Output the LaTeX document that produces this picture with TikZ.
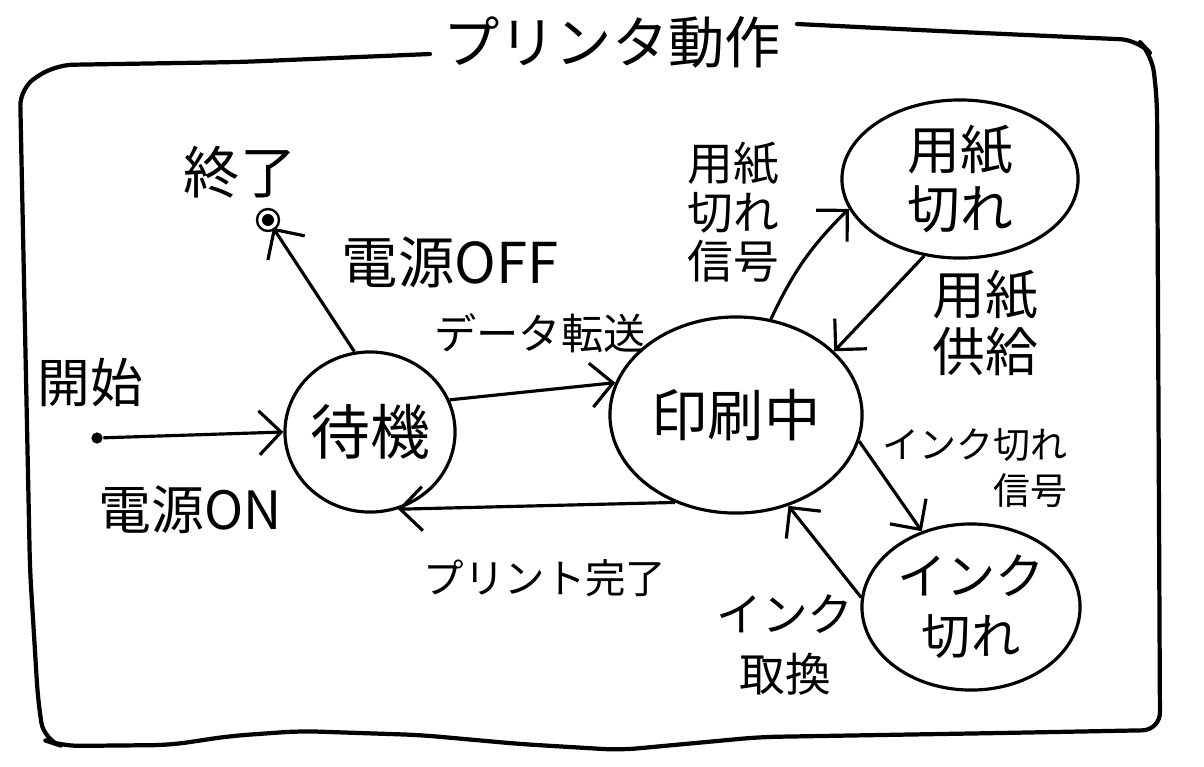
\documentclass[tikz,border=0pt]{standalone}
\usepackage{fontspec}
\setmainfont{Noto Sans CJK JP}
\usetikzlibrary{shapes.geometric,arrows.meta}

\tikzset{
  state/.style={draw, ellipse, line width=0.9pt, inner sep=0pt, align=center},
  trans/.style={->, line width=0.9pt},
  lbl/.style={align=center, inner sep=0pt},
  frame/.style={line width=1.2pt, line cap=round, line join=round},
}
\newcommand{\fsz}[1]{\fontsize{#1}{#1}\selectfont}

\begin{document}
\begin{tikzpicture}[x=0.01cm, y=-0.01cm,
    >={Straight Barb[length=2.2mm,width=4.4mm,line width=0.9pt]}]
    \useasboundingbox (0,0) rectangle (1204,766);
    \fill[white] (0,0) rectangle (1204,766);
    %\draw[help lines, step=100] (0,0) grid (1204,766);
    % cadre et titre
    \draw[frame, rounded corners=5pt] (430,54) -- (240,62) -- (55,65) -- (20,88) -- (30,570) -- (38,700) -- (44,740) -- (62,746) -- (170,745) -- (230,736) -- (300,731) -- (420,735) -- (520,744) -- (620,750) -- (760,737) -- (1000,733) -- (1160,730) -- (1157,100) -- (1152,55) -- (1138,40) -- (960,32) -- (797,24);
    \node[lbl, font=\fsz{16pt}] (title) at (612,42) {プリンタ動作};
    % etats
    \node[fill, circle, inner sep=0pt, minimum size=3.2pt] (start) at (97,438) {};
    \node[circle, fill, draw, double, double distance=1pt, line width=0.7pt, inner sep=0pt, minimum size=4.5pt] (fin) at (268,220) {};
    \node[state, minimum width=1.7cm, minimum height=1.6cm, font=\fsz{17pt}] (wait) at (370,432) {待機};
    \node[state, minimum width=2.52cm, minimum height=1.96cm, font=\fsz{16pt}] (print) at (736,415) {印刷中};
    \node[state, minimum width=2.36cm, minimum height=1.58cm, font={\fontsize{15pt}{17pt}\selectfont}] (paper) at (960,179) {用紙\\切れ};
    \node[state, minimum width=2.18cm, minimum height=1.66cm, font={\fontsize{14pt}{17pt}\selectfont}] (ink) at (971,607) {インク\\切れ};
    % transitions
    \draw[trans] (start) -- (wait.west);
    \draw[trans] (wait.101) -- (fin);
    \draw[trans] (wait.22) -- (print.165);
    \draw[trans] (print.235) -- (wait.290);
    \draw[trans] (print.70) to[bend left=10] (paper.195);
    \draw[trans] (paper.245) -- (print.33);
    \draw[trans] (print.-12) -- (ink.123);
    \draw[trans] (ink.175) -- (print.300);
    % textes
    \node[lbl, font=\fsz{15pt}] (tstart) at (90,382) {開始};
    \node[lbl, font=\fsz{15pt}] (ton) at (190,510) {電源ON};
    \node[lbl, font=\fsz{16pt}] (tfin) at (240,172) {終了};
    \node[lbl, font=\fsz{16pt}] (toff) at (450,262) {電源OFF};
    \node[lbl, font=\fsz{12pt}] (tdata) at (540,333) {データ転送};
    \node[lbl, font=\fsz{11.5pt}] (tdone) at (545,578) {プリント完了};
    \node[lbl, font={\fontsize{13pt}{14pt}\selectfont}] (tpsig) at (733,212) {用紙\\切れ\\信号};
    \node[lbl, font={\fontsize{15pt}{16pt}\selectfont}] (tpfeed) at (985,323) {用紙\\供給};
    \node[lbl, align=right, font={\fontsize{10.5pt}{13pt}\selectfont}] (tisig) at (975,468) {インク切れ\\信号};
    \node[lbl, font={\fontsize{13pt}{17pt}\selectfont}] (tichg) at (785,645) {インク\\取換};
\end{tikzpicture}
\end{document}
